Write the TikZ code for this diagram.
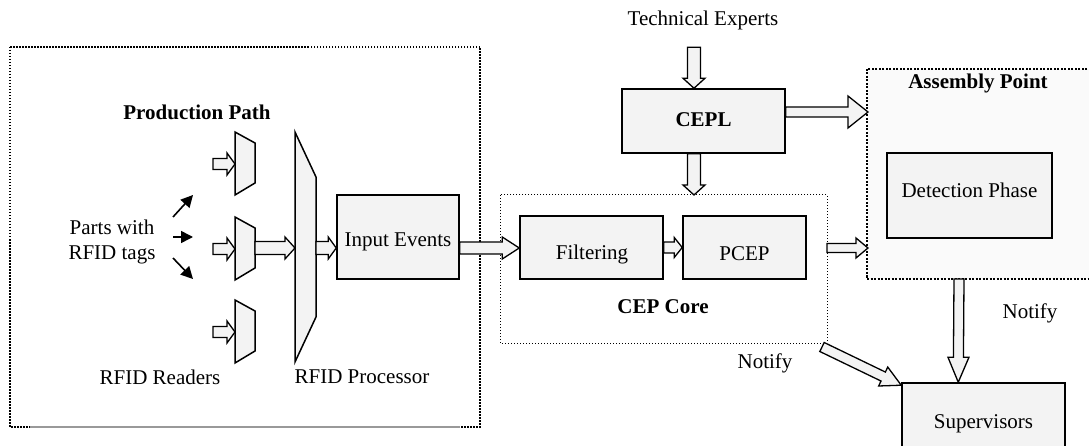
\documentclass[tikz,border=0pt]{standalone}
\usepackage{fontspec}
\setmainfont{Liberation Serif}
\usetikzlibrary{calc,arrows.meta}
\definecolor{boxfill}{HTML}{F3F3F3}
\definecolor{areafill}{HTML}{FAFAFA}
\tikzset{
  box/.style={draw, line width=1.5pt, fill=boxfill, inner sep=0pt},
  txt/.style={font=\fontsize{21}{25}\selectfont, align=center, inner sep=0pt},
  btxt/.style={txt, font=\fontsize{21}{25}\selectfont\bfseries},
  bar/.style={draw, line width=1.3pt, fill=boxfill, line join=miter},
  tagarrow/.style={line width=1.6pt, -{Triangle[length=12pt,width=12pt]}},
  zone/.style={line width=1.5pt, dash pattern=on 1.5pt off 1.5pt},
  corezone/.style={line width=1pt, dash pattern=on 1pt off 2pt},
  sitezone/.style={line width=2pt, dash pattern=on 2pt off 1.5pt, fill=areafill},
}
% hollow block arrow: from, to, half shaft width, half head width, head length
\newcommand\barrow[5]{%
  \draw[bar] let \p1=(#1), \p2=(#2),
    \n1={atan2(\y2-\y1,\x2-\x1)}, \n2={veclen(\x2-\x1,\y2-\y1)} in
    [shift={(\p1)}, rotate=\n1]
    (0,-#3) -- ({\n2-#5},-#3) -- ({\n2-#5},-#4) -- (\n2,0)
    -- ({\n2-#5},#4) -- ({\n2-#5},#3) -- (0,#3) -- cycle;}
\begin{document}
\begin{tikzpicture}[x=1pt,y=-1pt]
\useasboundingbox (0,0) rectangle (1089,446);

% ---------- production path area ----------
\draw[zone] (10,47) rectangle (480,427);
\draw[gray!80, line width=1.6pt] (30,427) -- (460,427);
\node[btxt] (pp) at (197,112) {Production Path};

% RFID readers
\foreach \rd/\t in {r1/132, r2/217, r3/300}{
  \draw[box] (235,\t) -- (255,\t+11) -- (255,\t+51) -- (235,\t+63) -- cycle;
  \coordinate (\rd-in) at (235,\t+32);
  \coordinate (\rd-src) at (213,\t+32);
  \coordinate (\rd-out) at (255,\t+31);
}
% RFID processor
\draw[box] (295,132) -- (316,177) -- (316,317) -- (295,362) -- cycle;
\coordinate (proc-in) at (295,248);
\coordinate (proc-out) at (316,248);

\node[txt] (parts) at (112,242) {Parts with\\RFID tags};
\coordinate (t0) at (173,237);
\draw[tagarrow] (t0) ++(0,-20) -- ++(20,-22);
\draw[tagarrow] (t0) -- ++(20,0);
\draw[tagarrow] (t0) ++(0,21) -- ++(20,21);

\node[txt] (readers) at (160,377) {RFID Readers};
\node[txt] (proclbl) at (362,377) {RFID Processor};

\node[box, minimum width=122pt, minimum height=84pt] (input) at (398,237) {};
\node[txt] at (398,242) {Input Events};

\barrow{r1-src}{r1-in}{5.5}{11}{8}
\barrow{r2-src}{r2-in}{5.5}{11}{8}
\barrow{r3-src}{r3-in}{5.5}{11}{8}
\barrow{r2-out}{proc-in}{6.5}{11}{10}
\barrow{proc-out}{$(input.west)+(0,11)$}{6.5}{11}{8}

% ---------- CEP core ----------
\draw[corezone] (500,195) rectangle (827,343);
\coordinate (core-top) at (694,195);
\coordinate (core-out) at (827,248);
\node[box, minimum width=143pt, minimum height=63pt] (filt) at (591.5,247.5) {};
\node[txt] at (592,254) {Filtering};
\node[box, minimum width=123pt, minimum height=63pt] (pcep) at (744.5,247.5) {};
\node[txt] at (744.5,254) {PCEP};
\node[btxt] (corelbl) at (663,307) {CEP Core};

\barrow{$(input.east)+(0,11)$}{$(filt.west)+(0,0.5)$}{6}{11}{17}
\barrow{filt.east}{pcep.west}{5.5}{10}{8}

% ---------- CEPL ----------
\node[txt] (tech) at (703,20) {Technical Experts};
\node[box, minimum width=163pt, minimum height=64pt] (cepl) at (703.5,121) {};
\node[btxt] at (703.5,120) {CEPL};
\barrow{$(cepl.north)+(-9.5,-41)$}{$(cepl.north)+(-9.5,0)$}{6.5}{11}{10}
\barrow{$(cepl.south)+(-9.5,0)$}{core-top}{6.5}{11}{10}

% ---------- assembly point ----------
\draw[sitezone] (867,69) rectangle (1096,279);
\node[btxt] (asm) at (978,83) {Assembly Point};
\coordinate (asm-in1) at (868,112);
\coordinate (asm-in2) at (868,248);
\coordinate (asm-out) at (959,279);
\node[box, minimum width=165pt, minimum height=85pt] (det) at (969.5,195.5) {};
\node[txt] at (969.5,190) {Detection Phase};

\barrow{$(cepl.east)+(0,-9)$}{asm-in1}{5}{16}{20}
\barrow{core-out}{asm-in2}{4.5}{10}{12}

% ---------- supervisors ----------
\node[box, minimum width=163pt, minimum height=77pt] (sup) at (983.5,421.5) {};
\node[txt] at (983.5,424) {Supervisors};
\coordinate (diag-src) at (822,347);

\barrow{asm-out}{$(sup.north west)+(57,0)$}{5}{10.5}{25}
\barrow{diag-src}{$(sup.north west)+(0,3)$}{5}{10.5}{20}

\node[txt] (n1) at (1030,313) {Notify};
\node[txt] (n2) at (765,363) {Notify};
\end{tikzpicture}
\end{document}
